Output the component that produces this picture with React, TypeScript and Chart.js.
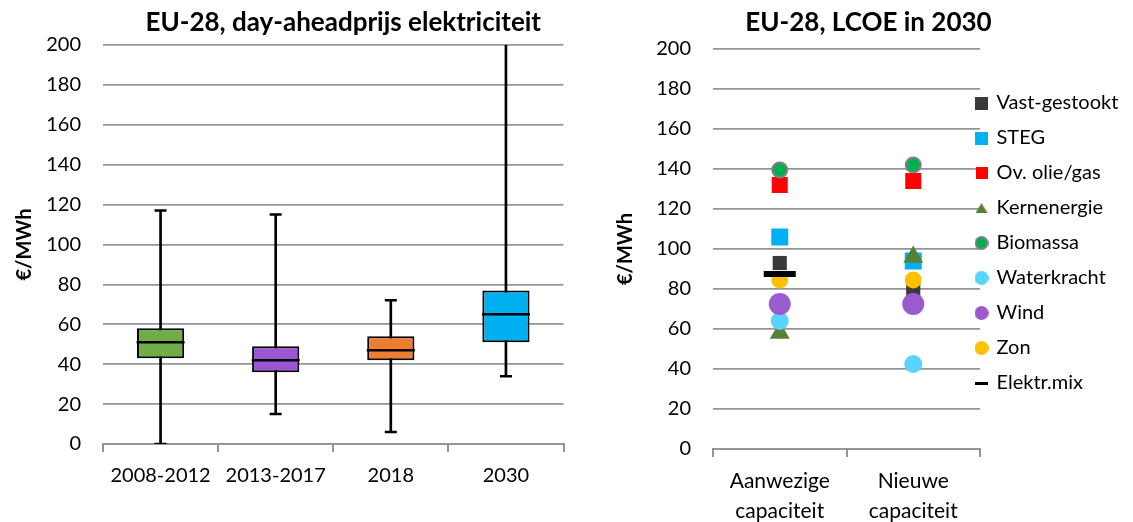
import React, { useEffect, useRef } from 'react';
import { Chart, registerables } from 'chart.js';

Chart.register(...registerables);

const FONT = 'Lato';

// ---------- Left panel: EU-28 day-ahead price (box plot) ----------
const boxCategories = ['2008-2012', '2013-2017', '2018', '2030'];
const boxMin = [0, 15, 6, 34];
const boxQ1 = [43, 36, 42, 51];
const boxMedian = [51, 42, 47, 65];
const boxQ3 = [58, 49, 54, 77];
const boxMax = [117, 115, 72, 250];
const boxColors = ['#70AD47', '#9B57D3', '#ED7D31', '#00B0F0'];

// ---------- Right panel: EU-28 LCOE in 2030 ----------
const lcoeCategories = [['Aanwezige', 'capaciteit'], ['Nieuwe', 'capaciteit']];
const vastGestookt = [93, 79];
const steg = [106, 94];
const ovOlieGas = [132, 134];
const kernenergie = [58, 96];
const biomassa = [139.5, 142];
const waterkracht = [64, 42.5];
const wind = [72.5, 72.5];
const zon = [84.5, 84.5];
const elektrMix = [87.5, null];

// ---------- Axis ----------
const yMin = 0;
const yMax = 200;
const yStep = 20;

const GRID = '#959595';
const tickFont = { family: FONT, size: 20 };
const titleFont = { family: FONT, size: 26, weight: 'bold' as const };
const axisTitleFont = { family: FONT, size: 20, weight: 'bold' as const };
const legendFont = { family: FONT, size: 20 };

function makeMarker(kind: string, w: number, h: number, fill: string, stroke?: string, sw?: number) {
  const c = document.createElement('canvas');
  c.width = w;
  c.height = h;
  const ctx = c.getContext('2d')!;
  ctx.fillStyle = fill;
  if (kind === 'rect' || kind === 'line') {
    ctx.fillRect(0, 0, w, h);
  } else if (kind === 'triangle') {
    ctx.beginPath();
    ctx.moveTo(w / 2, 0);
    ctx.lineTo(w, h);
    ctx.lineTo(0, h);
    ctx.closePath();
    ctx.fill();
  } else if (kind === 'circle') {
    const r = Math.min(w, h) / 2 - (sw ? sw / 2 : 0);
    ctx.beginPath();
    ctx.arc(w / 2, h / 2, r, 0, Math.PI * 2);
    ctx.fill();
    if (stroke && sw) {
      ctx.strokeStyle = stroke;
      ctx.lineWidth = sw;
      ctx.stroke();
    }
  }
  return c;
}

function yScale(width: number) {
  return {
    min: yMin,
    max: yMax,
    ticks: { stepSize: yStep, font: tickFont, color: '#000', padding: 22 },
    grid: { color: GRID, lineWidth: 1.8, drawTicks: false },
    border: { display: false },
    title: { display: true, text: '€/MWh', font: axisTitleFont, color: '#000', padding: 0 },
    afterFit: (s: any) => { s.width = width; },
  };
}

function xScale(height: number, padding: number, size: number) {
  return {
    type: 'category' as const,
    offset: true,
    grid: { offset: true, drawOnChartArea: false, drawTicks: true, tickLength: 8, color: GRID, lineWidth: 2 },
    border: { display: true, color: GRID, width: 2 },
    ticks: { font: { family: FONT, size, lineHeight: 1.4 }, color: '#000', padding, maxRotation: 0, autoSkip: false },
    afterFit: (s: any) => { s.height = height; },
  };
}

// Nudges the title block horizontally after layout.
const titleShift = {
  id: 'titleShift',
  afterLayout(chart: any, _args: any, opts: any) {
    const t = chart.titleBlock;
    if (!t || !opts || !opts.dx) return;
    if (t._baseLeft === undefined) { t._baseLeft = t.left; t._baseRight = t.right; }
    t.left = t._baseLeft + opts.dx;
    t.right = t._baseRight + opts.dx;
  },
};

// Places the legend next to the plot area, overlapping the gridline ends.
const legendShift = {
  id: 'legendShift',
  afterLayout(chart: any, _args: any, opts: any) {
    const l = chart.legend;
    if (!l) return;
    const h = l.height;
    l.left = chart.chartArea.right + opts.dx;
    l.right = chart.width;
    l.width = l.right - l.left;
    l.top = opts.dy;
    l.bottom = l.top + h;
  },
};

function leftConfig(): any {
  return {
    type: 'bar',
    data: {
      labels: boxCategories,
      datasets: [
        {
          type: 'line', label: 'Mediaan', data: boxMedian, showLine: false,
          pointStyle: 'line', pointRadius: 24, pointBorderWidth: 2.5,
          borderColor: '#000', pointBorderColor: '#000', order: 0,
        },
        {
          type: 'line', label: 'Maximum', data: boxMax, showLine: false,
          pointStyle: 'line', pointRadius: 6, pointBorderWidth: 2.5,
          borderColor: '#000', pointBorderColor: '#000', order: 1,
        },
        {
          type: 'line', label: 'Minimum', data: boxMin, showLine: false,
          pointStyle: 'line', pointRadius: 6, pointBorderWidth: 2.5,
          borderColor: '#000', pointBorderColor: '#000', order: 1,
        },
        {
          type: 'bar', label: 'Kwartielen',
          data: boxCategories.map((_, i) => [boxQ1[i], boxQ3[i]]),
          backgroundColor: boxColors, borderColor: '#000', borderWidth: 2,
          borderSkipped: false, grouped: false, barPercentage: 0.41, categoryPercentage: 1, order: 2,
        },
        {
          type: 'bar', label: 'Spreiding',
          data: boxCategories.map((_, i) => [boxMin[i], boxMax[i]]),
          backgroundColor: '#000', borderWidth: 0, barThickness: 2,
          grouped: false, order: 3,
        },
      ],
    },
    options: {
      responsive: false,
      animation: false,
      devicePixelRatio: 1,
      events: [],
      layout: { padding: { left: 13, right: 13, top: 0, bottom: 0 } },
      plugins: {
        legend: { display: false },
        tooltip: { enabled: false },
        title: {
          display: true, text: 'EU-28, day-aheadprijs elektriciteit', font: titleFont, color: '#000',
          padding: { top: 7, bottom: 6.8 }, fullSize: false,
        },
        titleShift: { dx: 10 },
      },
      scales: {
        x: xScale(78, 10, 20),
        y: yScale(90),
      },
    },
    plugins: [titleShift],
  };
}

function rightConfig(): any {
  const series = [
    { label: 'Vast-gestookt', data: vastGestookt, pointStyle: 'rect', pointRadius: 10, pointBackgroundColor: '#3A3A3A', pointBorderWidth: 0,
      legend: makeMarker('rect', 13, 13, '#3A3A3A') },
    { label: 'STEG', data: steg, pointStyle: 'rect', pointRadius: 12, pointBackgroundColor: '#00B0F0', pointBorderWidth: 0,
      legend: makeMarker('rect', 13, 13, '#00B0F0') },
    { label: 'Ov. olie/gas', data: ovOlieGas, pointStyle: 'rect', pointRadius: 11.3, pointBackgroundColor: '#FF0000', pointBorderWidth: 0,
      legend: makeMarker('rect', 12, 12, '#FF0000') },
    { label: 'Kernenergie', data: kernenergie, pointStyle: 'triangle', pointRadius: 11.5, pointBackgroundColor: '#548235', pointBorderWidth: 0,
      legend: makeMarker('triangle', 12, 10, '#548235') },
    { label: 'Biomassa', data: biomassa, pointStyle: 'circle', pointRadius: 7.5, pointBackgroundColor: '#00B050', pointBorderColor: '#808080', pointBorderWidth: 2,
      legend: makeMarker('circle', 14, 14, '#00B050', '#808080', 2) },
    { label: 'Waterkracht', data: waterkracht, pointStyle: 'circle', pointRadius: 9, pointBackgroundColor: '#5BD3FF', pointBorderWidth: 0,
      legend: makeMarker('circle', 14, 14, '#5BD3FF') },
    { label: 'Wind', data: wind, pointStyle: 'circle', pointRadius: 11, pointBackgroundColor: '#9B5BCF', pointBorderWidth: 0,
      legend: makeMarker('circle', 14, 14, '#9B5BCF') },
    { label: 'Zon', data: zon, pointStyle: 'circle', pointRadius: 8.5, pointBackgroundColor: '#FFC000', pointBorderWidth: 0,
      legend: makeMarker('circle', 14, 14, '#FFC000') },
    { label: 'Elektr.mix', data: elektrMix, pointStyle: 'line', pointRadius: 16, pointBorderColor: '#000', pointBorderWidth: 6,
      legend: makeMarker('line', 13, 3, '#000') },
  ];
  const n = series.length;
  const legendMarkers = series.map((s) => s.legend);
  return {
    type: 'line',
    data: {
      labels: lcoeCategories,
      datasets: series.map((s, i) => {
        const { legend, ...rest } = s;
        return { ...rest, showLine: false, borderColor: (rest as any).pointBorderColor || (rest as any).pointBackgroundColor, order: n - i };
      }),
    },
    options: {
      responsive: false,
      animation: false,
      devicePixelRatio: 1,
      events: [],
      layout: { padding: { left: 24, right: 0, top: 0, bottom: 0 } },
      plugins: {
        tooltip: { enabled: false },
        title: {
          display: true, text: 'EU-28, LCOE in 2030', font: titleFont, color: '#000',
          padding: { top: 7, bottom: 10.8 }, fullSize: true,
        },
        titleShift: { dx: -5 },
        legend: {
          position: 'right', align: 'start', maxWidth: 153,
          labels: {
            usePointStyle: true, boxWidth: 10, padding: 15, font: legendFont, color: '#000',
            generateLabels: (chart: any) => chart.data.datasets.map((ds: any, i: number) => ({
              text: ds.label, pointStyle: legendMarkers[i], datasetIndex: i, hidden: false,
              fillStyle: 'transparent', strokeStyle: 'transparent', lineWidth: 0, fontColor: '#000',
            })),
          },
        },
        legendShift: { dx: -18.5, dy: 78 },
      },
      scales: {
        x: xScale(73, 10, 21),
        y: yScale(99),
      },
    },
    plugins: [legendShift, titleShift],
  };
}

function ChartBox({ make, left, width, height }: { make: () => any; left: number; width: number; height: number }) {
  const ref = useRef<HTMLCanvasElement | null>(null);
  useEffect(() => {
    if (!ref.current) return;
    const chart = new Chart(ref.current, make());
    return () => chart.destroy();
  }, [make]);
  return (
    <div style={{ position: 'absolute', left, top: 0, width, height }}>
      <canvas ref={ref} width={width} height={height} style={{ display: 'block', width, height }} />
    </div>
  );
}

export default function App() {
  return (
    <div style={{ position: 'absolute', left: 0, top: 0, width: 1133, height: 522, background: '#fff', overflow: 'hidden' }}>
      <ChartBox make={leftConfig} left={0} width={590} height={522} />
      <ChartBox make={rightConfig} left={590} width={543} height={522} />
    </div>
  );
}
